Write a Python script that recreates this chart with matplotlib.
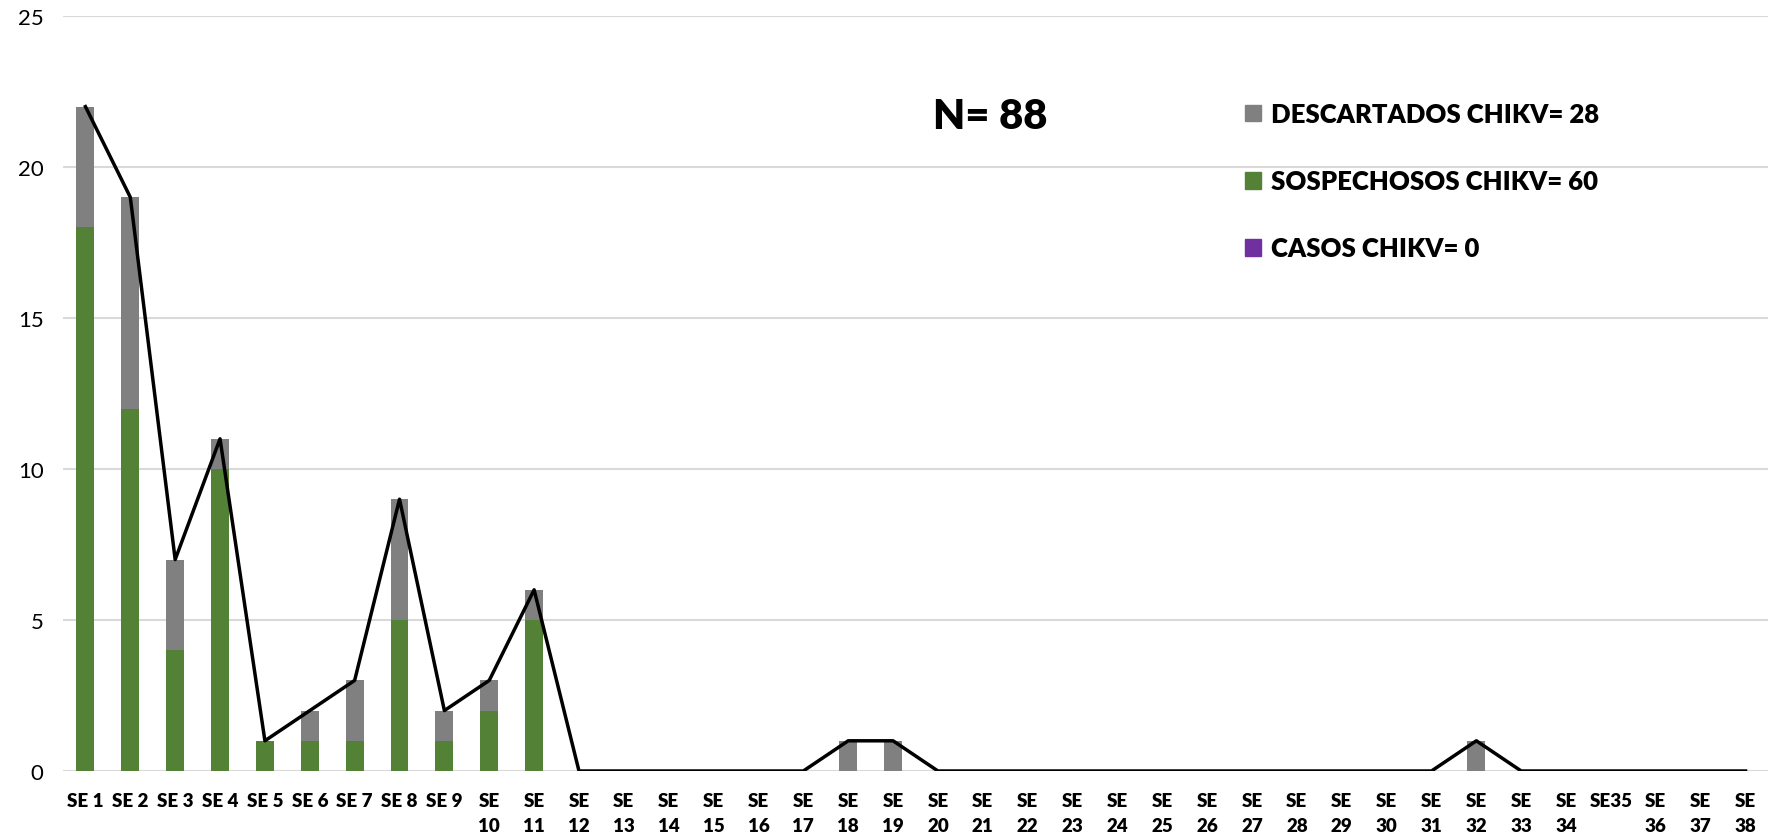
import matplotlib
matplotlib.use("Agg")
import matplotlib.pyplot as plt
from matplotlib.patches import Patch

plt.rcParams['font.family'] = ['Lato', 'DejaVu Sans']

weeks = ["SE 1", "SE 2", "SE 3", "SE 4", "SE 5", "SE 6", "SE 7", "SE 8", "SE 9",
         "SE\n10", "SE\n11", "SE\n12", "SE\n13", "SE\n14", "SE\n15", "SE\n16", "SE\n17",
         "SE\n18", "SE\n19", "SE\n20", "SE\n21", "SE\n22", "SE\n23", "SE\n24", "SE\n25",
         "SE\n26", "SE\n27", "SE\n28", "SE\n29", "SE\n30", "SE\n31", "SE\n32", "SE\n33",
         "SE\n34", "SE35", "SE\n36", "SE\n37", "SE\n38"]

casos = [0] * 38
sospechosos = [18, 12, 4, 10, 1, 1, 1, 5, 1, 2, 5] + [0] * 27
descartados = [4, 7, 3, 1, 0, 1, 2, 4, 1, 1, 1,
               0, 0, 0, 0, 0, 0, 1, 1, 0, 0, 0, 0, 0, 0, 0, 0, 0, 0, 0, 0, 1,
               0, 0, 0, 0, 0, 0]
totals = [c + s + d for c, s, d in zip(casos, sospechosos, descartados)]

gray = "#808080"
green = "#538135"
purple = "#7030A0"

fig = plt.figure(figsize=(17.79, 8.37), dpi=100)
ax = fig.add_axes([63 / 1779, 1 - 772 / 837, (1768 - 63) / 1779, (772 - 17) / 837])

x = list(range(len(weeks)))
w = 0.4
ax.bar(x, casos, w, color=purple, zorder=2)
ax.bar(x, sospechosos, w, bottom=casos, color=green, zorder=2)
bott = [c + s for c, s in zip(casos, sospechosos)]
ax.bar(x, descartados, w, bottom=bott, color=gray, zorder=2)
ax.plot(x, totals, color="black", linewidth=2.5, zorder=3)

ax.set_xlim(-0.5, len(weeks) - 0.5)
ax.set_ylim(0, 25)
ax.set_yticks([0, 5, 10, 15, 20, 25])
ax.yaxis.grid(True, color="#d9d9d9", linewidth=1.5, zorder=0)
ax.set_axisbelow(True)
for s in ax.spines.values():
    s.set_visible(False)
ax.tick_params(axis="both", length=0)
ax.tick_params(axis="y", labelsize=16, pad=14)
ax.set_xticks(x)
ax.set_xticklabels(weeks, fontsize=13.5, fontweight="heavy", linespacing=1.6)
ax.tick_params(axis="x", pad=15)

ax.text(990 / 1779, 1 - 117 / 837, "N= 88", transform=fig.transFigure, fontsize=30,
        fontweight="heavy", ha="center", va="center")

handles = [Patch(color=gray, label="DESCARTADOS CHIKV= 28"),
           Patch(color=green, label="SOSPECHOSOS CHIKV= 60"),
           Patch(color=purple, label="CASOS CHIKV= 0")]
fig.legend(handles=handles, loc="upper left", bbox_to_anchor=(1245 / 1779, 1 - 103 / 837),
           frameon=False, prop={"size": 18.5, "weight": "heavy"},
           handlelength=0.63, handleheight=0.63, handletextpad=0.4, labelspacing=1.68,
           borderaxespad=0, borderpad=0)

fig.savefig("out.png", dpi=100)
